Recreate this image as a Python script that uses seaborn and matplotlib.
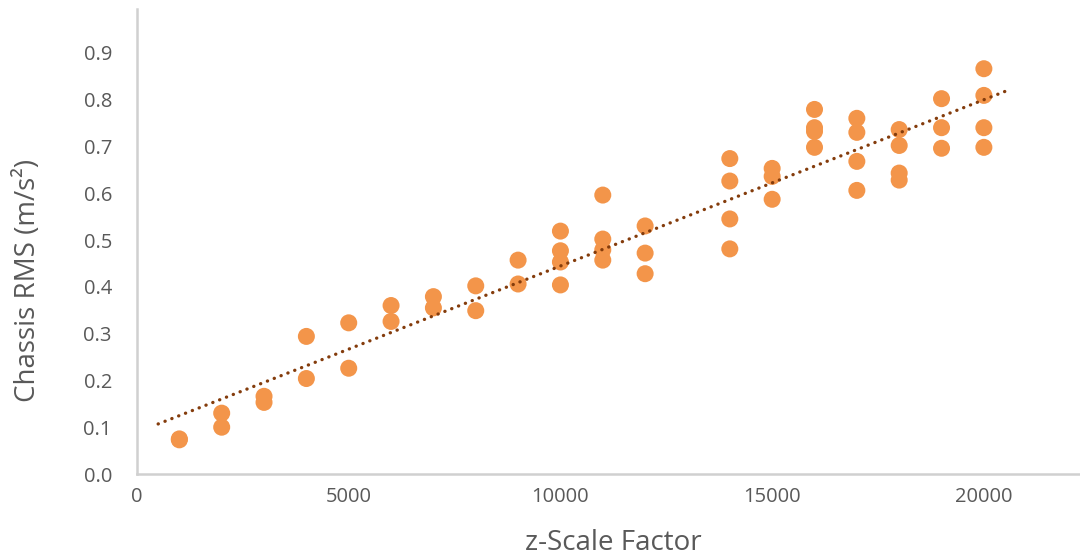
import numpy as np
import pandas as pd
import seaborn as sns
import matplotlib
matplotlib.use("Agg")
import matplotlib.pyplot as plt

# ---- data ----
z_scale = [1000, 1000,
           2000, 2000,
           3000, 3000,
           4000, 4000,
           5000, 5000,
           6000, 6000,
           7000, 7000,
           8000, 8000,
           9000, 9000,
           10000, 10000, 10000, 10000,
           11000, 11000, 11000, 11000,
           12000, 12000, 12000,
           14000, 14000, 14000, 14000,
           15000, 15000, 15000,
           16000, 16000, 16000, 16000,
           17000, 17000, 17000, 17000,
           18000, 18000, 18000, 18000,
           19000, 19000, 19000,
           20000, 20000, 20000, 20000]
chassis_rms = [0.073, 0.075,
               0.130, 0.100,
               0.166, 0.153,
               0.294, 0.204,
               0.323, 0.226,
               0.360, 0.326,
               0.379, 0.355,
               0.402, 0.349,
               0.457, 0.406,
               0.519, 0.477, 0.453, 0.404,
               0.596, 0.502, 0.479, 0.457,
               0.530, 0.472, 0.428,
               0.674, 0.626, 0.545, 0.481,
               0.653, 0.636, 0.587,
               0.779, 0.740, 0.732, 0.698,
               0.760, 0.730, 0.668, 0.606,
               0.736, 0.702, 0.643, 0.628,
               0.802, 0.740, 0.696,
               0.866, 0.809, 0.740, 0.698]
y_ticks = [0.0, 0.1, 0.2, 0.3, 0.4, 0.5, 0.6, 0.7, 0.8, 0.9]
x_ticks = [0, 5000, 10000, 15000, 20000]
trend_span = [500, 20500]   # trendline forecast range (backward/forward 500)

df = pd.DataFrame({"z": z_scale, "rms": chassis_rms})

sns.set_theme(style="white")
plt.rcParams["font.family"] = ["Open Sans", "DejaVu Sans"]

fig = plt.figure(figsize=(10.8, 5.56), dpi=100)
ax = fig.add_axes([137 / 1080, 1 - 474 / 556, 1 - 137 / 1080, (474 - 9) / 556])

sns.scatterplot(data=df, x="z", y="rms", ax=ax, s=150, color="#F3954A",
                edgecolor="none", linewidth=0, zorder=3)

# linear trendline
slope, intercept = np.polyfit(df["z"], df["rms"], 1)
tx = np.array(trend_span, dtype=float)
ax.plot(tx, slope * tx + intercept, color="#843C0C", lw=2.4,
        linestyle=(0, (0.05, 2.15)), dash_capstyle="round",
        solid_capstyle="round", zorder=4)

ax.set_xlim(0, 22270)
ax.set_ylim(0, 0.9936)
ax.set_xticks(x_ticks)
ax.set_xticklabels([f"{v}" for v in x_ticks])
ax.set_yticks(y_ticks)
ax.set_yticklabels([f"{v:.1f}" for v in y_ticks])

for s in ["top", "right"]:
    ax.spines[s].set_visible(False)
for s in ["left", "bottom"]:
    ax.spines[s].set_color("#D0D0D0")
    ax.spines[s].set_linewidth(1.8)

ax.tick_params(axis="both", length=0, labelsize=14.5, colors="#595959")
ax.tick_params(axis="y", pad=18)
ax.tick_params(axis="x", pad=9)
ax.grid(False)

ax.set_xlabel("z-Scale Factor", fontsize=20, color="#595959")
ax.set_ylabel("Chassis RMS (m/s²)", fontsize=20, color="#595959")
ax.xaxis.set_label_coords(0.505, -0.118)
ax.yaxis.set_label_coords(-0.101, 0.417)

fig.savefig("out.png", dpi=100)
